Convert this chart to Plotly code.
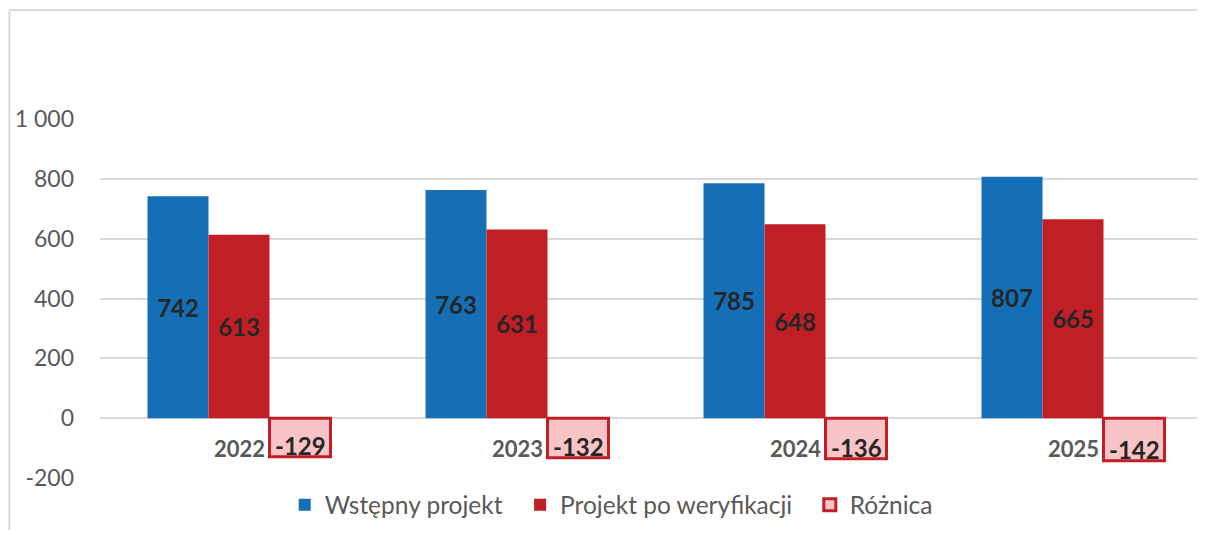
import plotly.graph_objects as go

years = ["2022", "2023", "2024", "2025"]
wstepny = [742, 763, 785, 807]
po_weryfikacji = [613, 631, 648, 665]
roznica = [-129, -132, -136, -142]
y_ticks = [-200, 0, 200, 400, 600, 800, 1000]
y_tick_labels = ["-200", "0", "200", "400", "600", "800", "1 000"]

FONT = "Lato"
GRAY = "#595959"
DARK = "#262626"
PAD = "\u00a0\u00a0"

fig = go.Figure()

fig.add_trace(go.Bar(
    x=years, y=wstepny, name="Wstępny projekt" + PAD,
    marker=dict(color="#146FB7", line=dict(width=0)),
    text=[str(v) for v in wstepny], textposition="inside",
    insidetextanchor="middle", constraintext="none",
    textfont=dict(family=FONT, size=24, color=DARK, weight="bold"),
))
fig.add_trace(go.Bar(
    x=years, y=po_weryfikacji, name="Projekt po weryfikacji" + PAD,
    marker=dict(color="#C01F26", line=dict(width=0)),
    text=[str(v) for v in po_weryfikacji], textposition="inside",
    insidetextanchor="middle", constraintext="none",
    textfont=dict(family=FONT, size=24, color=DARK, weight="bold"),
))
fig.add_trace(go.Bar(
    x=years, y=roznica, name="Różnica",
    marker=dict(color="#F8C4C7", line=dict(color="#C01F26", width=3)),
))

annotations = []
for i, yr in enumerate(years):
    # category labels sit just below the zero line, like in the original
    annotations.append(dict(
        x=i, y=-100, xref="x", yref="y", text=yr, showarrow=False,
        xanchor="center", yanchor="middle",
        font=dict(family=FONT, size=22, color=GRAY, weight="bold"),
    ))
    # difference labels at the lower end of the pink bars
    annotations.append(dict(
        x=i, y=roznica[i], xref="x", yref="y", text=str(roznica[i]),
        showarrow=False, xanchor="center", yanchor="bottom",
        xshift=61, yshift=-5,
        font=dict(family=FONT, size=24, color=DARK, weight="bold"),
    ))

fig.update_layout(
    width=1189, height=522,
    margin=dict(l=92, r=0, t=111, b=52),
    paper_bgcolor="white", plot_bgcolor="white",
    barmode="group", bargap=0.3417, bargroupgap=0,
    font=dict(family=FONT, color=GRAY, size=24.5),
    xaxis=dict(
        type="category", range=[-0.5, 3.446], showticklabels=False,
        showgrid=False, zeroline=False, showline=False, ticks="",
    ),
    yaxis=dict(
        range=[-200, 1000], tickvals=y_ticks, ticktext=y_tick_labels,
        showgrid=True, gridcolor="#D9D9D9", gridwidth=1.5,
        zeroline=True, zerolinecolor="#D9D9D9", zerolinewidth=1.5,
        showline=False, ticks="", ticklabelstandoff=25,
        tickfont=dict(family=FONT, size=23, color=GRAY),
    ),
    legend=dict(
        orientation="h", x=0.466, xanchor="center", y=-0.075, yanchor="middle",
        font=dict(family=FONT, size=24.5, color=GRAY),
        traceorder="normal",
    ),
    annotations=annotations,
    shapes=[
        dict(type="line", xref="paper", yref="paper",
             x0=-0.0826, x1=-0.0826, y0=-0.3, y1=1.3036,
             line=dict(color="#D9D9D9", width=2), layer="below"),
        dict(type="line", xref="paper", yref="paper",
             x0=-0.0826, x1=1.0, y0=1.3036, y1=1.3036,
             line=dict(color="#D9D9D9", width=2), layer="below"),
    ],
    hovermode=False,
)

fig.write_html("out.html")
